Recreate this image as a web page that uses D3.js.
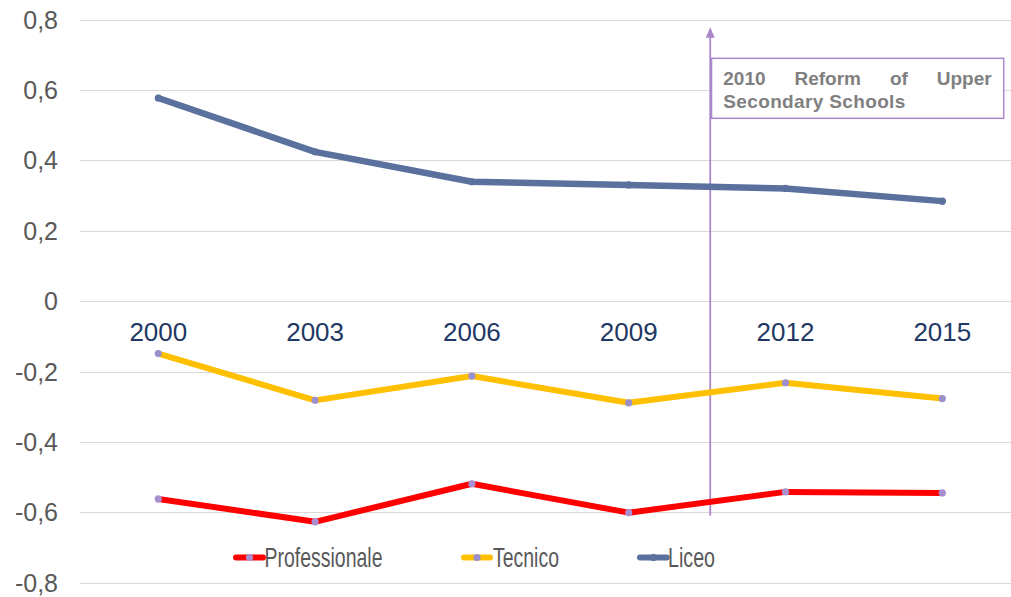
<!DOCTYPE html>
<html>
<head>
<meta charset="utf-8">
<script src="https://cdn.jsdelivr.net/npm/d3@7/dist/d3.min.js"></script>
<style>
  html, body { margin: 0; padding: 0; background: #ffffff; }
  svg { display: block; font-family: "Liberation Sans", Arial, sans-serif; }
</style>
</head>
<body>
<svg id="chart" width="1011" height="597"></svg>
<script>
// ---- data ----
const years = ["2000", "2003", "2006", "2009", "2012", "2015"];
const professionale = [-0.562, -0.627, -0.519, -0.601, -0.542, -0.545];
const tecnico = [-0.149, -0.282, -0.213, -0.289, -0.232, -0.277];
const liceo = [0.577, 0.424, 0.339, 0.330, 0.320, 0.284];
const yTicks = [0.8, 0.6, 0.4, 0.2, 0, -0.2, -0.4, -0.6, -0.8];
const seriesNames = ["Professionale", "Tecnico", "Liceo"];
const reformYear = 2010.56;
const reformLabel = ["2010 Reform of Upper", "Secondary Schools"];

// ---- setup ----
const svg = d3.select("#chart");
const x = d3.scalePoint().domain(years).range([158.3, 942.3]);
const xYear = d3.scaleLinear().domain([2000, 2015]).range([158.3, 942.3]);
const y = d3.scaleLinear().domain([-0.8, 0.8]).range([582.7, 19.5]);

const fmt = v => (v === 0 ? "0" : d3.format(".1f")(v).replace(".", ",").replace("−", "-"));

// gridlines
svg.append("g").selectAll("line").data(yTicks).join("line")
  .attr("x1", 80).attr("x2", 1011)
  .attr("y1", d => Math.round(y(d)) + 0.5).attr("y2", d => Math.round(y(d)) + 0.5)
  .attr("stroke", "#d9d9d9").attr("stroke-width", 1);

// y tick labels
svg.append("g").selectAll("text").data(yTicks).join("text")
  .attr("x", 58).attr("y", d => y(d)).attr("dy", "0.36em")
  .attr("text-anchor", "end")
  .attr("font-size", 25).attr("fill", "#595959")
  .text(fmt);

// x category labels (at the zero line)
svg.append("g").selectAll("text").data(years).join("text")
  .attr("x", d => x(d)).attr("y", 341)
  .attr("text-anchor", "middle")
  .attr("font-size", 26).attr("fill", "#1f3864")
  .text(d => d);

const series = [
  { name: seriesNames[0], values: professionale, color: "#ff0000", marker: "#a98fd0", r: 3.6, w: 6 },
  { name: seriesNames[1], values: tecnico, color: "#ffc000", marker: "#9b8fce", r: 3.6, w: 6 },
  { name: seriesNames[2], values: liceo, color: "#5a709d", marker: "#5a709d", r: 3.6, w: 6.5 }
];

const line = d3.line().x((d, i) => x(years[i])).y(d => y(d));

// reform vertical arrow (drawn behind series lines)
const rx = xYear(reformYear);
const arrowColor = "#ab86cc";
svg.append("line")
  .attr("x1", rx).attr("x2", rx)
  .attr("y1", y(-0.61)).attr("y2", y(0.755))
  .attr("stroke", arrowColor).attr("stroke-width", 1.8);
svg.append("path")
  .attr("d", `M${rx},${y(0.778)} L${rx - 4.5},${y(0.748)} L${rx + 4.5},${y(0.748)} Z`)
  .attr("fill", arrowColor);

series.forEach(s => {
  svg.append("path")
    .datum(s.values)
    .attr("d", line)
    .attr("fill", "none")
    .attr("stroke", s.color)
    .attr("stroke-width", s.w)
    .attr("stroke-linejoin", "round")
    .attr("stroke-linecap", "round");
  svg.append("g").selectAll("circle").data(s.values).join("circle")
    .attr("cx", (d, i) => x(years[i])).attr("cy", d => y(d))
    .attr("r", s.r).attr("fill", s.marker);
});

// annotation box
const bx0 = rx + 1.3, bx1 = 1003.7, by0 = 58.3, by1 = 118.3;
svg.append("rect")
  .attr("x", bx0).attr("y", by0).attr("width", bx1 - bx0).attr("height", by1 - by0)
  .attr("fill", "#ffffff").attr("stroke", arrowColor).attr("stroke-width", 1.5);

// line 1 justified
const textLeft = 723.3, textRight = 991.7;
const words = reformLabel[0].split(" ");
const wg = svg.append("g").attr("font-size", 19).attr("font-weight", "bold").attr("fill", "#808080");
const wordNodes = words.map(w => wg.append("text").attr("y", 85).text(w));
const widths = wordNodes.map(n => n.node().getComputedTextLength());
const gap = (textRight - textLeft - d3.sum(widths)) / (words.length - 1);
let cx = textLeft;
wordNodes.forEach((n, i) => { n.attr("x", cx); cx += widths[i] + gap; });
wg.append("text").attr("x", textLeft).attr("y", 107.5)
  .attr("textLength", 182).attr("lengthAdjust", "spacing").text(reformLabel[1]);

// legend
const legend = [
  { x1: 236, x2: 263, tx: 264.5, tw: 118 },
  { x1: 464, x2: 490, tx: 493, tw: 66 },
  { x1: 640, x2: 666.7, tx: 668, tw: 47 }
];
const lg = svg.append("g");
series.forEach((s, i) => {
  const L = legend[i];
  lg.append("line")
    .attr("x1", L.x1).attr("x2", L.x2).attr("y1", 557.5).attr("y2", 557.5)
    .attr("stroke", s.color).attr("stroke-width", 6).attr("stroke-linecap", "round");
  lg.append("circle").attr("cx", (L.x1 + L.x2) / 2).attr("cy", 557.5)
    .attr("r", s.r).attr("fill", s.marker);
  lg.append("text")
    .attr("x", L.tx).attr("y", 567)
    .attr("font-size", 27.5).attr("fill", "#595959")
    .attr("textLength", L.tw).attr("lengthAdjust", "spacingAndGlyphs")
    .text(s.name);
});
</script>
</body>
</html>
